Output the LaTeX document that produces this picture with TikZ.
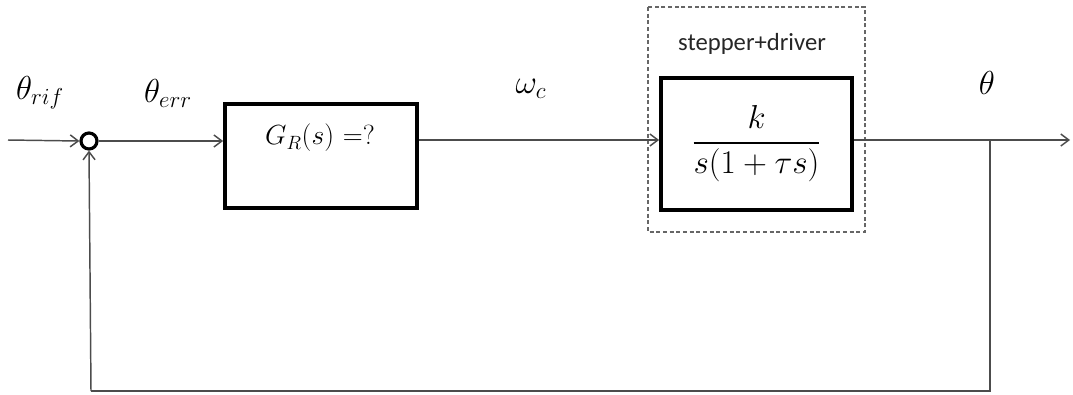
\documentclass[tikz,border=0pt]{standalone}
\usepackage{amsmath}
\usepackage{fontspec}
\newfontfamily\labelfont{Carlito}
\usetikzlibrary{arrows.meta}
\begin{document}
\begin{tikzpicture}[x=0.75pt,y=-0.75pt,
  sig/.style={draw=black!70, line width=1.1pt},
  arr/.style={sig, -{Straight Barb[length=6pt,width=9pt,line width=1.1pt]}},
  blockbox/.style={draw=black, line width=2.8pt, inner sep=0pt},
  dashbox/.style={draw=black!60, line width=1.2pt, dash pattern=on 3pt off 2pt},
  lbl/.style={font=\fontsize{25}{30}\selectfont, inner sep=0pt},
  blocktext/.style={font=\fontsize{22}{26}\selectfont, inner sep=0pt}]
\useasboundingbox (0,0) rectangle (1073,394);
\coordinate (in) at (8,140);
\node[circle, draw=black, line width=2.4pt, minimum size=16*0.75pt, inner sep=0pt] (sum) at (89,141) {};
\node[blockbox, minimum width=192*0.75pt, minimum height=104*0.75pt] (gr) at (321,156) {};
\node[blocktext] (grt) at (320,138) {$G_R(s)\ {=}?$};
\node[blockbox, minimum width=191*0.75pt, minimum height=132*0.75pt, font=\fontsize{24}{28}\selectfont] (plant) at (756.5,144) {$\dfrac{k}{s(1+\tau s)}$};
\draw[dashbox] (648,7) rectangle (865,232);
\node[font=\labelfont\fontsize{18.5}{22}\selectfont, text=black!85, inner sep=0pt] (sd) at (752,44) {stepper+driver};
\coordinate (out) at (1070,140);
\coordinate (br) at (990,140);
\coordinate (bl) at (990,391);
\coordinate (blft) at (91,391);
\draw[arr] (in) -- (sum.west);
\draw[arr] (sum.east) -- (sum.east -| gr.west);
\draw[arr] (gr.east |- 0,140) -- (plant.west |- 0,140);
\draw[arr] (plant.east |- 0,140) -- (out);
\draw[sig] (br) -- (bl) -- (blft);
\draw[arr] (blft) -- (sum.south);
\node[lbl] (trif) at (40,93) {$\theta_{rif}$};
\node[lbl] (terr) at (168,93) {$\theta_{err}$};
\node[lbl] (wc) at (531,89) {$\omega_c$};
\node[lbl] (th) at (987,83) {$\theta$};
\end{tikzpicture}
\end{document}
